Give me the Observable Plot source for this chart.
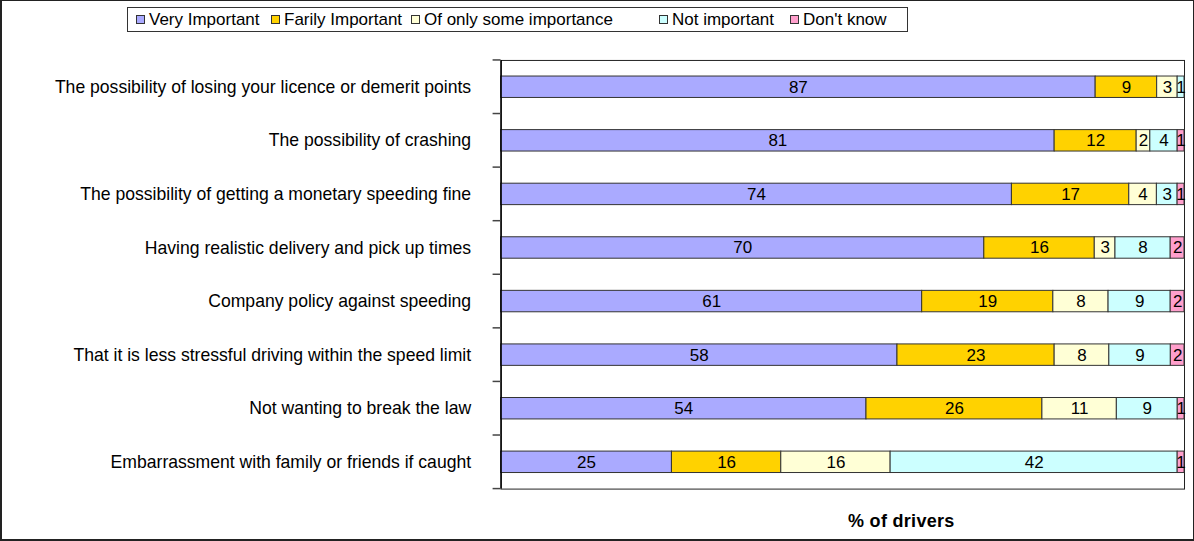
<!DOCTYPE html>
<html>
<head>
<meta charset="utf-8">
<script src="https://cdn.jsdelivr.net/npm/d3@7"></script>
<script src="https://cdn.jsdelivr.net/npm/@observablehq/plot@0.6"></script>
<style>
  html, body { margin: 0; padding: 0; background: #fff; }
  #wrap { position: relative; width: 1194px; height: 541px; box-sizing: border-box; border: 1px solid #222; border-left-width: 2px; border-bottom-width: 2px; overflow: hidden; font-family: "Liberation Sans", Arial, sans-serif; }
  #chart { position: absolute; left: -2px; top: -1px; }
  #legend { position: absolute; left: 125px; top: 6px; width: 781px; height: 25px; box-sizing: border-box; border: 1px solid #333; font-size: 17px; color: #000; white-space: nowrap; }
  #legend .item { position: absolute; top: 0; height: 23px; display: flex; align-items: center; }
  #legend .sw { width: 7px; height: 7px; border: 1px solid #333; margin-right: 4px; }
  #xlabel { position: absolute; left: 846px; top: 510px; font-size: 18px; font-weight: bold; color: #000; letter-spacing: 0.3px; }
</style>
</head>
<body>
<div id="wrap">
  <div id="chart"></div>
  <div id="legend"></div>
  <div id="xlabel">% of drivers</div>
</div>
<script>
const categories = [
  "The possibility of losing your licence or demerit points",
  "The possibility of crashing",
  "The possibility of getting a monetary speeding fine",
  "Having realistic delivery and pick up times",
  "Company policy against speeding",
  "That it is less stressful driving within the speed limit",
  "Not wanting to break the law",
  "Embarrassment with family or friends if caught"
];
const series = ["Very Important", "Farily Important", "Of only some importance", "Not important", "Don't know"];
const colors = ["#aaaaff", "#ffd200", "#ffffd6", "#ccffff", "#ff9fcc"];
const veryImportant = [87, 81, 74, 70, 61, 58, 54, 25];
const fairlyImportant = [9, 12, 17, 16, 19, 23, 26, 16];
const someImportance = [3, 2, 4, 3, 8, 8, 11, 16];
const notImportant = [1, 4, 3, 8, 9, 9, 9, 42];
const dontKnow = [0, 1, 1, 2, 2, 2, 1, 1];
const seriesValues = [veryImportant, fairlyImportant, someImportance, notImportant, dontKnow];
const legendOffsets = [8, 143, 283, 531, 662];

const rows = [];
categories.forEach((c, i) => {
  series.forEach((s, j) => rows.push({category: c, series: s, value: seriesValues[j][i]}));
});

const chart = Plot.plot({
  width: 1194,
  height: 541,
  marginLeft: 501,
  marginRight: 9,
  marginTop: 60,
  marginBottom: 52,
  style: {fontFamily: "Liberation Sans, Arial, sans-serif", fontSize: "17px", background: "transparent", color: "#000"},
  x: {domain: [0, 1], axis: null},
  y: {domain: categories, paddingInner: 0.6, paddingOuter: 0.3, round: false, label: null},
  color: {domain: series, range: colors},
  marks: [
    Plot.frame({stroke: "#222", strokeWidth: 1}),
    Plot.axisY({tickSize: 0, tickPadding: 30, fontSize: 17.6, fill: "#000", label: null}),
    Plot.barX(rows, Plot.stackX({offset: "normalize", order: series, x: "value", y: "category", z: "series", fill: "series", stroke: "#333", strokeWidth: 1})),
    Plot.text(rows.filter(d => d.value > 0), Plot.stackX({offset: "normalize", order: series, x: "value", y: "category", z: "series", text: d => String(d.value), fill: "#000", fontSize: 17})),
    Plot.ruleX([0], {stroke: "#000", strokeWidth: 1.5})
  ]
});
document.getElementById("chart").appendChild(chart);

// band-boundary ticks on the y axis, from the plot's own scales
const ys = chart.scale("y");
const xs = chart.scale("x");
const x0 = xs.apply(0);
const half = (ys.step - ys.bandwidth) / 2;
const bounds = categories.map(c => ys.apply(c) - half);
bounds.push(ys.apply(categories[categories.length - 1]) + ys.bandwidth + half);
d3.select(chart).append("g")
  .attr("stroke", "#444")
  .attr("stroke-width", 1.5)
  .selectAll("line").data(bounds).join("line")
  .attr("x1", x0 - 8).attr("x2", x0)
  .attr("y1", d => d).attr("y2", d => d);

// legend
const legend = d3.select("#legend");
series.forEach((s, i) => {
  const it = legend.append("div").attr("class", "item").style("left", legendOffsets[i] + "px");
  it.append("div").attr("class", "sw").style("background", colors[i]);
  it.append("span").text(s);
});
</script>
</body>
</html>
